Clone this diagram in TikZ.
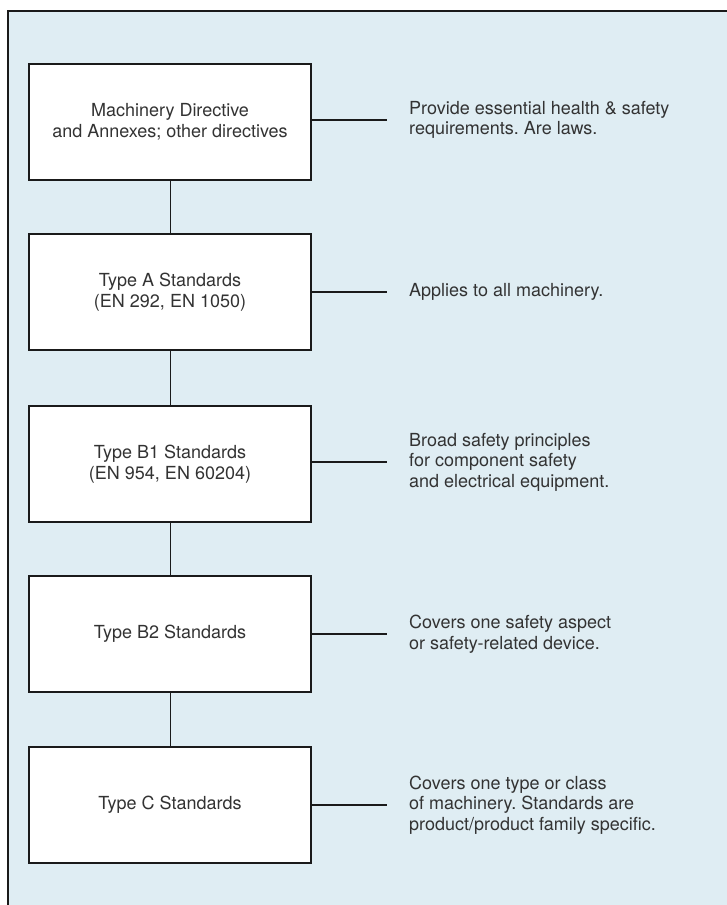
\documentclass[tikz,border=0pt]{standalone}
\usepackage{fontspec}
\setmainfont{TeX Gyre Heros}
\frenchspacing
\definecolor{panelblue}{HTML}{DFEDF3}
\definecolor{inkgray}{HTML}{333333}
\definecolor{linegray}{HTML}{1A1A1A}
\begin{document}
\begin{tikzpicture}[x=1pt,y=-1pt,
  stdbox/.style={draw=linegray, line width=2pt, fill=white,
    minimum width=282pt, minimum height=116pt, inner sep=0pt,
    align=center, text=inkgray, font=\fontsize{18}{20.5}\selectfont},
  note/.style={anchor=west, align=left, inner sep=0pt,
    text=inkgray, font=\fontsize{18}{20.5}\selectfont},
  vlink/.style={draw=linegray, line width=0.9pt},
  hlink/.style={draw=linegray, line width=2pt}]
\useasboundingbox (0,0) rectangle (727,905);

% panel with top and left rule
\fill[panelblue] (8,11) rectangle (727,905);
\draw[linegray, line width=2pt] (8,905) -- (8,11) -- (727,11);

% hierarchy of standards
\node[stdbox] (md) at (170,122) {Machinery Directive\\and Annexes; other directives};
\node[stdbox] (ta) at (170,292) {Type A Standards\\(EN 292, EN 1050)};
\node[stdbox] (tb1) at (170,464) {Type B1 Standards\\(EN 954, EN 60204)};
\node[stdbox] (tb2) at (170,634) {Type B2 Standards};
\node[stdbox] (tc) at (170,805) {Type C Standards};

\draw[vlink] (md.south) -- (ta.north);
\draw[vlink] (ta.south) -- (tb1.north);
\draw[vlink] (tb1.south) -- (tb2.north);
\draw[vlink] (tb2.south) -- (tc.north);

% descriptions
\coordinate (emd) at (387,120);
\coordinate (eta) at (387,292);
\coordinate (etb1) at (387,462);
\coordinate (etb2) at (387,634);
\coordinate (etc) at (387,805);

\node[note] (nmd) at ([xshift=22pt]emd) {Provide essential health \& safety\\requirements. Are laws.};
\node[note] (nta) at ([xshift=22pt]eta) {Applies to all machinery.};
\node[note] (ntb1) at ([xshift=22pt]etb1) {Broad safety principles\\for component safety\\and electrical equipment.};
\node[note] (ntb2) at ([xshift=22pt]etb2) {Covers one safety aspect\\or safety-related device.};
\node[note] (ntc) at ([xshift=22pt]etc) {Covers one type or class\\of machinery. Standards are\\product/product family specific.};

\draw[hlink] (md.east |- emd) -- (emd);
\draw[hlink] (ta.east |- eta) -- (eta);
\draw[hlink] (tb1.east |- etb1) -- (etb1);
\draw[hlink] (tb2.east |- etb2) -- (etb2);
\draw[hlink] (tc.east |- etc) -- (etc);
\end{tikzpicture}
\end{document}
